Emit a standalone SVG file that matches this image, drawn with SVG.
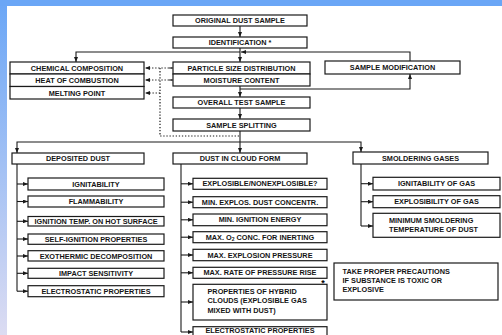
<svg xmlns="http://www.w3.org/2000/svg" width="502" height="335" viewBox="0 0 502 335">
<style>
text{font-family:"Liberation Sans",Arial,sans-serif;font-weight:bold;font-size:7.3px;fill:#151515}
.c{text-anchor:middle}
.b{fill:#fff;stroke:#1a1a1a;stroke-width:1.2}
.l{fill:none;stroke:#1a1a1a;stroke-width:1.1}
.d{fill:none;stroke:#1a1a1a;stroke-width:1.2;stroke-dasharray:1.3 1.8}
</style>
<defs>
<linearGradient id="lg" x1="0" y1="0" x2="0" y2="1">
<stop offset="0" stop-color="#6aa6f6"/>
<stop offset="1" stop-color="#dcdcf2"/>
</linearGradient>
<marker id="a" markerUnits="userSpaceOnUse" markerWidth="5" markerHeight="4" refX="5" refY="2" orient="auto">
<path d="M0,0 L5,2 L0,4 z" fill="#1a1a1a"/>
</marker>
</defs>
<rect x="0" y="0" width="502" height="335" fill="#fff"/>
<rect x="0" y="0" width="7" height="335" fill="url(#lg)"/>
<rect x="0" y="0" width="502" height="6" fill="#6aa6f6"/>

<g id="connectors">
<path class="l" d="M240,26 V37" marker-end="url(#a)"/>
<path class="l" d="M240,48 V62" marker-end="url(#a)"/>
<path class="l" d="M240,52 H76 V62" marker-end="url(#a)"/>
<path class="l" d="M410,61 V52 H241" marker-end="url(#a)"/>
<path class="l" d="M240,89 H410 V74" marker-end="url(#a)"/>
<path class="l" d="M240,86 V97" marker-end="url(#a)"/>
<path class="l" d="M240,108 V119" marker-end="url(#a)"/>
<path class="l" d="M240,131 V142"/>
<path class="l" d="M240,142 H17 V153" marker-end="url(#a)"/>
<path class="l" d="M240,142 V153" marker-end="url(#a)"/>
<path class="l" d="M240,142 H361 V152" marker-end="url(#a)"/>
<path class="d" d="M172,68 H145" marker-end="url(#a)"/>
<path class="d" d="M172,80 H145" marker-end="url(#a)"/>
<path class="d" d="M160,68 V136 H240"/>
<path class="d" d="M160,93 H145" marker-end="url(#a)"/>
<path class="l" d="M173,68 H169 M173,80 H169"/>
<path class="l" d="M17,164 V291.2"/>
<path class="l" d="M17,184 H28" marker-end="url(#a)"/>
<path class="l" d="M17,201.5 H28" marker-end="url(#a)"/>
<path class="l" d="M17,221.3 H28" marker-end="url(#a)"/>
<path class="l" d="M17,239 H28" marker-end="url(#a)"/>
<path class="l" d="M17,256 H28" marker-end="url(#a)"/>
<path class="l" d="M17,273.3 H28" marker-end="url(#a)"/>
<path class="l" d="M17,291.2 H28" marker-end="url(#a)"/>
<path class="l" d="M181,164 V332"/>
<path class="l" d="M181,183.8 H193" marker-end="url(#a)"/>
<path class="l" d="M181,202.2 H193" marker-end="url(#a)"/>
<path class="l" d="M181,219.8 H193" marker-end="url(#a)"/>
<path class="l" d="M181,237.2 H193" marker-end="url(#a)"/>
<path class="l" d="M181,255 H193" marker-end="url(#a)"/>
<path class="l" d="M181,272.8 H193" marker-end="url(#a)"/>
<path class="l" d="M181,302 H193" marker-end="url(#a)"/>
<path class="l" d="M181,332 H193" marker-end="url(#a)"/>
<path class="l" d="M361,164 V226"/>
<path class="l" d="M361,183.7 H373" marker-end="url(#a)"/>
<path class="l" d="M361,201.7 H373" marker-end="url(#a)"/>
<path class="l" d="M361,226 H373" marker-end="url(#a)"/>
</g>

<g id="original"><rect class="b" x="173" y="15" width="134" height="11"/><text class="c" x="240" y="23">ORIGINAL DUST SAMPLE</text></g>
<g id="identification"><rect class="b" x="173" y="37" width="134" height="11"/><text class="c" x="240" y="45">IDENTIFICATION *</text></g>
<g id="chemical"><rect class="b" x="10" y="62" width="134" height="12"/><text class="c" x="77" y="70.6">CHEMICAL COMPOSITION</text></g>
<g id="heat"><rect class="b" x="10" y="74" width="134" height="12.5"/><text class="c" x="77" y="83">HEAT OF COMBUSTION</text></g>
<g id="melting"><rect class="b" x="10" y="86.5" width="134" height="12.5"/><text class="c" x="77" y="95.6">MELTING POINT</text></g>
<g id="psd"><rect class="b" x="173" y="62" width="137" height="12"/><text class="c" x="241.5" y="70.6">PARTICLE SIZE DISTRIBUTION</text></g>
<g id="moisture"><rect class="b" x="173" y="74" width="137" height="12"/><text class="c" x="241.5" y="82.6">MOISTURE CONTENT</text></g>
<g id="modification"><rect class="b" x="325" y="61" width="135" height="13"/><text class="c" x="392.5" y="70">SAMPLE MODIFICATION</text></g>
<g id="overall"><rect class="b" x="173" y="97" width="137" height="11"/><text class="c" x="241.5" y="105">OVERALL TEST SAMPLE</text></g>
<g id="splitting"><rect class="b" x="173" y="119" width="137" height="12"/><text class="c" x="241.5" y="127.6">SAMPLE SPLITTING</text></g>

<g id="deposited"><rect class="b" x="12" y="153" width="132" height="11"/><text class="c" x="78" y="161">DEPOSITED DUST</text></g>
<g id="cloud"><rect class="b" x="173" y="153" width="134" height="11"/><text class="c" x="240" y="161">DUST IN CLOUD FORM</text></g>
<g id="smoldering"><rect class="b" x="353" y="152" width="135" height="12"/><text class="c" x="420.5" y="160.6">SMOLDERING GASES</text></g>

<g id="d1"><rect class="b" x="28" y="178" width="136" height="12"/><text class="c" x="96" y="186.6">IGNITABILITY</text></g>
<g id="d2"><rect class="b" x="28" y="196" width="136" height="11"/><text class="c" x="96" y="204">FLAMMABILITY</text></g>
<g id="d3"><rect class="b" x="28" y="216.5" width="136" height="9.5"/><text class="c" x="96" y="223.9">IGNITION TEMP. ON HOT SURFACE</text></g>
<g id="d4"><rect class="b" x="28" y="234" width="136" height="10.3"/><text class="c" x="96" y="241.7">SELF-IGNITION PROPERTIES</text></g>
<g id="d5"><rect class="b" x="28" y="250.7" width="136" height="10.3"/><text class="c" x="96" y="258.5">EXOTHERMIC DECOMPOSITION</text></g>
<g id="d6"><rect class="b" x="28" y="268.3" width="136" height="10"/><text class="c" x="96" y="276">IMPACT SENSITIVITY</text></g>
<g id="d7"><rect class="b" x="28" y="285.7" width="136" height="11"/><text class="c" x="96" y="293.8">ELECTROSTATIC PROPERTIES</text></g>

<g id="c1"><rect class="b" x="193" y="178.3" width="134" height="11"/><text class="c" x="260" y="186.4">EXPLOSIBLE/NONEXPLOSIBLE?</text></g>
<g id="c2"><rect class="b" x="193" y="196.7" width="134" height="11"/><text class="c" x="260" y="204.8">MIN. EXPLOS. DUST CONCENTR.</text></g>
<g id="c3"><rect class="b" x="193" y="214" width="134" height="11.7"/><text class="c" x="260" y="222.4">MIN. IGNITION ENERGY</text></g>
<g id="c4"><rect class="b" x="193" y="231.7" width="134" height="11"/><text class="c" x="260" y="239.8">MAX. O<tspan font-size="5" dy="1.5">2</tspan><tspan dy="-1.5"> CONC. FOR INERTING</tspan></text></g>
<g id="c5"><rect class="b" x="193" y="249.3" width="134" height="11.4"/><text class="c" x="260" y="257.6">MAX. EXPLOSION PRESSURE</text></g>
<g id="c6"><rect class="b" x="193" y="267.3" width="134" height="11"/><text class="c" x="260" y="275.4">MAX. RATE OF PRESSURE RISE</text></g>
<g id="c7"><rect class="b" x="193" y="284.3" width="134" height="35.7"/><text x="207.5" y="294.3">PROPERTIES OF HYBRID</text><text x="207.5" y="303.3">CLOUDS (EXPLOSIBLE GAS</text><text x="207.5" y="312.6">MIXED WITH DUST)</text></g>
<g id="c8"><rect class="b" x="193" y="326.7" width="134" height="12"/><text class="c" x="260" y="333">ELECTROSTATIC PROPERTIES</text></g>

<g id="s1"><rect class="b" x="373" y="177.3" width="127" height="12.7"/><text class="c" x="436.5" y="186.3">IGNITABILITY OF GAS</text></g>
<g id="s2"><rect class="b" x="373" y="195.7" width="127" height="12"/><text class="c" x="436.5" y="204.3">EXPLOSIBILITY OF GAS</text></g>
<g id="s3"><rect class="b" x="373" y="213.3" width="127" height="24"/><text x="389" y="223.3">MINIMUM SMOLDERING</text><text x="389" y="232">TEMPERATURE OF DUST</text></g>

<g id="note"><rect class="b" x="334" y="263" width="164" height="37"/><text x="342.5" y="274.3">TAKE PROPER PRECAUTIONS</text><text x="342.5" y="282.6">IF SUBSTANCE IS TOXIC OR</text><text x="342.5" y="291.9">EXPLOSIVE</text></g>
<g id="asterisk"><text x="323" y="285.5" style="font-size:9px;text-anchor:middle;fill:#000">*</text></g>
</svg>
